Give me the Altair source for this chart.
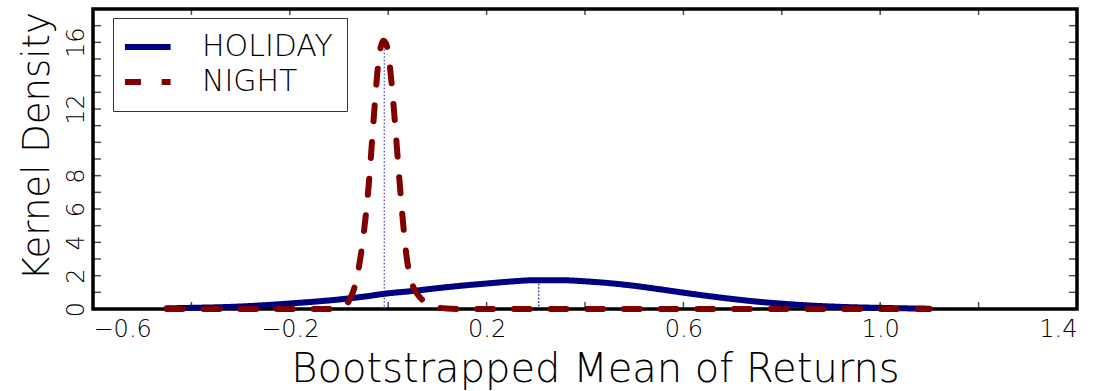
import altair as alt
import pandas as pd

# ---------------- data ----------------
series = ["HOLIDAY", "NIGHT"]

holiday_x = [-0.45, -0.4, -0.35, -0.3, -0.25, -0.2, -0.15, -0.1, -0.05, 0.0,
             0.05, 0.1, 0.15, 0.2, 0.25, 0.3, 0.35, 0.4, 0.45, 0.5,
             0.55, 0.6, 0.65, 0.7, 0.75, 0.8, 0.85, 0.9, 0.95, 1.0,
             1.05, 1.1]
holiday_y = [0.04, 0.07, 0.10, 0.15, 0.23, 0.33, 0.44, 0.57, 0.74, 0.94,
             1.08, 1.25, 1.40, 1.53, 1.65, 1.73, 1.73, 1.66, 1.55, 1.39,
             1.19, 0.98, 0.78, 0.60, 0.44, 0.32, 0.22, 0.15, 0.10, 0.07,
             0.04, 0.02]

night_x = [-0.45, -0.3, -0.15, -0.11, -0.095, -0.088, -0.082, -0.076, -0.07,
           -0.064, -0.058, -0.052, -0.046, -0.04, -0.034, -0.028, -0.022,
           -0.016, -0.01, -0.004, 0.002, 0.008, 0.014, 0.02, 0.026, 0.032,
           0.038, 0.044, 0.05, 0.058, 0.066, 0.075, 0.085, 0.1, 0.12, 0.15,
           0.3, 0.5, 0.7, 0.9, 1.1]
night_y = [0.0, 0.0, 0.0, 0.01, 0.08, 0.2, 0.38, 0.7, 1.15,
           1.85, 2.8, 4.0, 5.5, 7.3, 9.6, 12.0, 14.2,
           15.6, 16.1, 15.9, 14.9, 13.2, 11.1, 8.8, 6.6, 4.6,
           3.0, 2.0, 1.4, 0.95, 0.65, 0.42, 0.24, 0.1, 0.03, 0.0,
           0.0, 0.0, 0.0, 0.0, 0.0]

peak_series = ["HOLIDAY", "NIGHT"]
peak_x = [0.306, -0.008]
peak_y = [1.72, 16.0]

x_tick_values = [-0.6, -0.4, -0.2, 0.0, 0.2, 0.4, 0.6, 0.8, 1.0, 1.2, 1.4]
x_label_values = [-0.6, -0.2, 0.2, 0.6, 1.0, 1.4]
y_tick_values = list(range(0, 19))
y_label_values = [0, 2, 4, 6, 8, 12, 16]

# ---------------- chart ----------------
W, H = 984, 300
FONT = "DejaVu Sans"
WEIGHT = 200
NAVY = "#000080"
MAROON = "#800000"

curves = pd.DataFrame({
    "x": holiday_x + night_x,
    "density": holiday_y + night_y,
    "series": [series[0]] * len(holiday_x) + [series[1]] * len(night_x),
})
peaks = pd.DataFrame({"x": peak_x, "density": peak_y, "series": peak_series})
xt = pd.DataFrame({"x": x_tick_values})
yt = pd.DataFrame({"density": y_tick_values})

xscale = alt.Scale(domain=[-0.6, 1.4], nice=False, zero=False)
yscale = alt.Scale(domain=[0, 18], nice=False)

legend_kw = dict(
    title=None, orient="none", legendX=20, legendY=9, direction="vertical",
    symbolType="M-1.55,0L2.6,0", symbolSize=484, symbolStrokeWidth=6,
    labelFont=FONT, labelFontSize=30, labelFontWeight=WEIGHT, labelColor="black",
    labelOffset=45, padding=14, rowPadding=5,
    strokeColor="#333333", fillColor="white", cornerRadius=0,
)

x_axis = alt.Axis(
    values=x_label_values, format=".1f", labelFlush=True, ticks=False, domain=False,
    grid=False, labelFont=FONT, labelFontSize=24, labelFontWeight=WEIGHT,
    labelColor="black", labelPadding=8, labelOverlap=False,
    title="Bootstrapped Mean of Returns", titleFont=FONT, titleFontSize=40,
    titleFontWeight=WEIGHT, titleColor="black", titleX=502, titleY=72,
    titleBaseline="alphabetic", titleAlign="center",
)
y_axis = alt.Axis(
    values=y_label_values, format="d", ticks=False, domain=False, grid=False,
    labelFont=FONT, labelFontSize=24, labelFontWeight=WEIGHT, labelColor="black",
    labelAngle=270, labelAlign="center", labelBaseline="alphabetic",
    labelPadding=10, labelOverlap=False,
    title="Kernel Density", titleFont=FONT, titleFontSize=37,
    titleFontWeight=WEIGHT, titleColor="black", titleAngle=270,
    titleX=-45, titleY=137, titleAlign="center", titleBaseline="alphabetic",
)

lines = alt.Chart(curves).mark_line(
    strokeWidth=6, strokeCap="round", strokeJoin="round", interpolate="monotone"
).encode(
    x=alt.X("x:Q", scale=xscale, axis=x_axis),
    y=alt.Y("density:Q", scale=yscale, axis=y_axis),
    color=alt.Color("series:N", scale=alt.Scale(domain=series, range=[NAVY, MAROON]),
                    legend=alt.Legend(**legend_kw)),
    strokeDash=alt.StrokeDash("series:N",
                              scale=alt.Scale(domain=series, range=[[1, 0], [16, 20.7]]),
                              legend=alt.Legend(**legend_kw)),
)

rule_h = alt.Chart(peaks).transform_filter(alt.datum.series == "HOLIDAY").mark_rule(
    color=NAVY, strokeWidth=1.2, strokeDash=[1.5, 2]
).encode(x=alt.X("x:Q", scale=xscale), y=alt.Y("density:Q", scale=yscale),
         y2=alt.value(H))

rule_n = alt.Chart(peaks).transform_filter(alt.datum.series == "NIGHT").mark_rule(
    color="#3a3ab8", strokeWidth=1.2, strokeDash=[1.5, 2]
).encode(x=alt.X("x:Q", scale=xscale), y=alt.Y("density:Q", scale=yscale),
         y2=alt.value(H))

tick_style = dict(color="black", thickness=1.5)
bottom_ticks = alt.Chart(xt).mark_tick(size=7, **tick_style).encode(
    x=alt.X("x:Q", scale=xscale), y=alt.value(H - 3.5))
top_ticks = alt.Chart(xt).mark_tick(size=6, **tick_style).encode(
    x=alt.X("x:Q", scale=xscale), y=alt.value(3))
left_ticks = alt.Chart(yt).mark_tick(size=8, **tick_style).encode(
    y=alt.Y("density:Q", scale=yscale), x=alt.value(4))
right_ticks = alt.Chart(yt).mark_tick(size=8, **tick_style).encode(
    y=alt.Y("density:Q", scale=yscale), x=alt.value(W - 4))

chart = alt.layer(
    rule_h, rule_n, lines, bottom_ticks, top_ticks, left_ticks, right_ticks
).properties(
    width=W, height=H,
    autosize=alt.AutoSizeParams(type="none"),
    padding={"left": 93, "top": 9, "right": 25, "bottom": 82},
).configure_view(stroke="black", strokeWidth=3.5)

chart.save("out.html", embed_options={"renderer": "svg", "actions": False})
